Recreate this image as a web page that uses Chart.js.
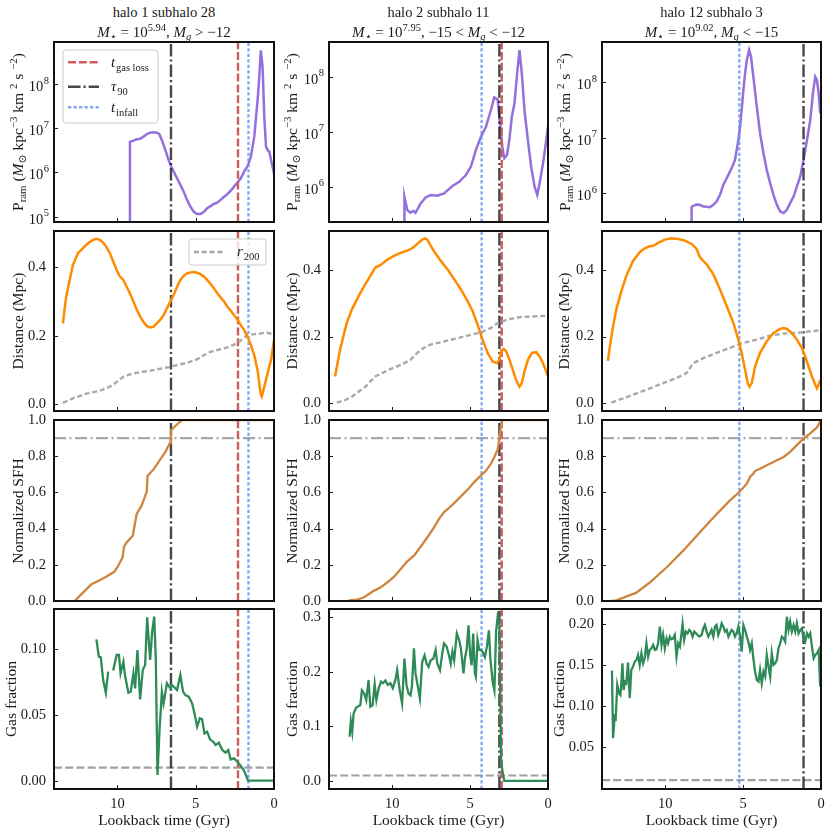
<!DOCTYPE html>
<html><head><meta charset="utf-8">
<script src="https://cdn.jsdelivr.net/npm/chart.js@4.4.1/dist/chart.umd.min.js"></script>
<style>
html,body{margin:0;padding:0;background:#fff;}
#wrap{position:relative;width:830px;height:834px;overflow:hidden;font-family:"Liberation Serif","DejaVu Serif",serif;color:#1a1a1a;}
canvas{position:absolute;}
.t{position:absolute;white-space:nowrap;transform:translate(-50%,-50%);font-size:14px;line-height:1;}
.yl{position:absolute;white-space:nowrap;transform:translate(-50%,-50%) rotate(-90deg);font-size:15px;line-height:1;}
sub,sup{font-size:70%;line-height:0;position:relative;vertical-align:baseline;}
sub{top:0.3em;} sup{top:-0.55em;}
</style></head><body><div id="wrap"></div>
<script>
// ---------------- DATA ----------------
// lookback-time ticks
const X_TICKS = [0, 5, 10];
const X_MAX = 14.05;
// event times per column (halo 1 sub 28, halo 2 sub 11, halo 12 sub 3)
const t_gasloss = [2.30, 2.97, null];
const tau90 = [6.58, 3.12, 1.12];
const t_infall = [1.63, 4.26, 5.24];
const sfh_threshold = 0.9;
const gas_threshold = 0.01;

// halo 1 subhalo 28
const h1_pram_t = [9.20, 9.20, 8.98, 8.77, 8.55, 8.34, 8.12, 7.91, 7.70, 7.48, 7.33, 7.16, 6.94, 6.73, 6.56, 6.41, 6.19, 5.98, 5.77, 5.55, 5.34, 5.12, 4.91, 4.69, 4.48, 4.27, 4.05, 3.84, 3.62, 3.41, 3.19, 2.98, 2.76, 2.55, 2.34, 2.12, 1.91, 1.69, 1.48, 1.26, 1.05, 0.94, 0.84, 0.73, 0.62, 0.51, 0.41, 0.30, 0.19, 0.09, 0.00];
const h1_pram_v = [1e3, 4.9e6, 5.25e6, 5.62e6, 5.75e6, 6.46e6, 7.41e6, 7.94e6, 8.13e6, 7.94e6, 7.41e6, 5.37e6, 3.24e6, 1.91e6, 1.35e6, 1.05e6, 7.41e5, 5.25e5, 3.72e5, 2.40e5, 1.70e5, 1.29e5, 1.15e5, 1.15e5, 1.29e5, 1.55e5, 1.74e5, 1.95e5, 2.09e5, 2.40e5, 2.82e5, 3.24e5, 3.89e5, 4.79e5, 5.89e5, 7.41e5, 1.05e6, 1.38e6, 2.24e6, 6.46e6, 4.27e7, 1.45e8, 5.75e8, 2.45e8, 1.82e7, 3.80e6, 3.24e6, 2.95e6, 1.91e6, 1.35e6, 9.55e5];
const h1_dist_t = [13.48, 13.38, 13.27, 13.05, 12.84, 12.52, 12.20, 11.88, 11.55, 11.34, 11.13, 10.91, 10.70, 10.48, 10.27, 10.05, 9.84, 9.62, 9.41, 9.20, 8.98, 8.77, 8.55, 8.34, 8.12, 7.91, 7.70, 7.48, 7.27, 7.05, 6.84, 6.62, 6.41, 6.19, 5.98, 5.77, 5.55, 5.34, 5.12, 4.91, 4.69, 4.48, 4.27, 4.05, 3.84, 3.62, 3.41, 3.19, 2.98, 2.76, 2.55, 2.34, 2.12, 1.91, 1.69, 1.48, 1.26, 1.05, 0.94, 0.84, 0.78, 0.72, 0.62, 0.41, 0.19, 0.00];
const h1_dist_v = [0.236, 0.275, 0.314, 0.363, 0.407, 0.441, 0.456, 0.470, 0.480, 0.483, 0.480, 0.472, 0.459, 0.441, 0.417, 0.392, 0.373, 0.363, 0.343, 0.324, 0.300, 0.277, 0.256, 0.241, 0.228, 0.224, 0.226, 0.236, 0.246, 0.260, 0.280, 0.300, 0.319, 0.343, 0.363, 0.375, 0.382, 0.385, 0.386, 0.384, 0.380, 0.373, 0.363, 0.351, 0.339, 0.324, 0.312, 0.300, 0.285, 0.273, 0.260, 0.248, 0.231, 0.217, 0.197, 0.173, 0.143, 0.100, 0.060, 0.028, 0.022, 0.032, 0.051, 0.090, 0.129, 0.187];
const h1_r200_t = [13.48, 12.84, 11.98, 11.13, 10.48, 10.05, 9.62, 8.98, 7.91, 6.84, 6.41, 5.55, 4.91, 4.48, 4.05, 2.98, 2.34, 1.69, 0.84, 0.41, 0.00];
const h1_r200_v = [0.004, 0.017, 0.031, 0.039, 0.051, 0.065, 0.080, 0.090, 0.098, 0.107, 0.112, 0.121, 0.131, 0.143, 0.153, 0.166, 0.178, 0.202, 0.207, 0.209, 0.202];
const h1_sfh_t = [12.73, 12.20, 11.66, 11.13, 10.70, 10.20, 9.95, 9.67, 9.58, 9.41, 9.02, 8.77, 8.45, 8.12, 8.08, 7.70, 7.27, 6.94, 6.62, 6.58, 6.30, 5.87, 0.00];
const h1_sfh_v = [0.0, 0.046, 0.093, 0.115, 0.135, 0.161, 0.194, 0.241, 0.300, 0.324, 0.361, 0.481, 0.528, 0.606, 0.691, 0.726, 0.781, 0.824, 0.876, 0.944, 0.967, 1.0, 1.0];
const h1_gas_t = [11.34, 11.19, 11.06, 10.91, 10.74, 10.59, 10.45, 10.27, 10.05, 9.90, 9.80, 9.62, 9.52, 9.30, 9.15, 8.98, 8.87, 8.72, 8.55, 8.38, 8.23, 8.10, 7.91, 7.78, 7.65, 7.55, 7.44, 7.31, 7.16, 7.05, 6.84, 6.62, 6.52, 6.41, 6.19, 5.98, 5.81, 5.66, 5.45, 5.23, 5.08, 4.91, 4.74, 4.59, 4.44, 4.27, 4.09, 3.88, 3.73, 3.52, 3.30, 3.09, 2.92, 2.77, 2.55, 2.34, 2.12, 1.91, 1.65, 0.00];
const h1_gas_v = [0.1076, 0.0944, 0.0939, 0.0766, 0.0670, 0.0830, null, 0.0838, 0.0957, 0.0957, 0.0817, 0.0906, 0.0805, 0.0670, 0.0678, 0.0817, 0.0703, 0.0995, 0.0619, 0.0843, 0.0881, 0.1244, 0.0919, 0.1135, 0.1249, 0.0931, 0.0043, 0.0386, 0.0678, 0.0589, 0.0741, 0.0703, 0.0728, 0.0716, 0.0690, 0.0805, 0.0678, 0.0652, 0.0640, 0.0589, 0.0513, 0.0411, 0.0475, 0.0467, 0.0360, 0.0373, 0.0315, 0.0297, 0.0272, 0.0289, 0.0234, 0.0213, 0.0234, 0.0162, 0.0170, 0.0145, 0.0112, 0.0076, 0.0, 0.0];

// halo 2 subhalo 11
const h2_pram_t = [9.22, 9.21, 9.03, 8.82, 8.65, 8.50, 8.17, 7.85, 7.53, 7.10, 6.67, 6.13, 5.70, 5.27, 4.95, 4.63, 4.30, 3.98, 3.66, 3.45, 3.23, 2.92, 2.80, 2.63, 2.48, 2.32, 2.15, 1.98, 1.83, 1.68, 1.51, 1.29, 1.08, 0.86, 0.69, 0.54, 0.32, 0.11, 0.00];
const h2_pram_v = [1e3, 6.58e5, 3.77e5, 3.37e5, 3.66e5, 3.37e5, 4.99e5, 6.41e5, 7.06e5, 6.86e5, 7.59e5, 1.03e6, 1.23e6, 1.63e6, 2.31e6, 4.65e6, 8.11e6, 1.23e7, 2.48e7, 4.22e7, 3.88e7, 5.01e6, 3.31e6, 3.77e6, 7.06e6, 1.87e7, 3.28e7, 1.15e8, 3.05e8, 1.15e8, 2.48e7, 7.06e6, 2.31e6, 1.0e6, 7.1e5, 1.15e6, 2.66e6, 7.06e6, 1.23e7];
const h2_dist_t = [13.66, 13.34, 12.91, 12.58, 12.15, 11.72, 11.40, 11.08, 10.75, 10.32, 9.89, 9.46, 9.03, 8.71, 8.39, 8.07, 7.89, 7.74, 7.53, 7.31, 7.10, 6.88, 6.45, 6.02, 5.59, 5.16, 4.84, 4.52, 4.20, 3.87, 3.55, 3.27, 3.12, 3.01, 2.84, 2.69, 2.47, 2.26, 2.05, 1.83, 1.68, 1.51, 1.29, 1.03, 0.75, 0.54, 0.32, 0.11, 0.00];
const h2_dist_v = [0.080, 0.161, 0.241, 0.282, 0.322, 0.358, 0.383, 0.408, 0.415, 0.431, 0.443, 0.452, 0.459, 0.466, 0.479, 0.492, 0.496, 0.492, 0.474, 0.457, 0.443, 0.428, 0.403, 0.373, 0.342, 0.307, 0.277, 0.236, 0.191, 0.151, 0.125, 0.120, 0.130, 0.156, 0.163, 0.156, 0.130, 0.100, 0.070, 0.049, 0.060, 0.095, 0.130, 0.151, 0.153, 0.140, 0.120, 0.095, 0.080];
const h2_r200_t = [13.55, 13.01, 12.58, 12.15, 11.72, 11.40, 11.08, 10.65, 10.11, 9.46, 8.82, 8.39, 7.96, 7.53, 6.88, 6.02, 5.16, 4.30, 3.66, 3.23, 2.58, 1.72, 0.86, 0.00];
const h2_r200_v = [0.001, 0.009, 0.019, 0.034, 0.049, 0.065, 0.080, 0.090, 0.102, 0.115, 0.130, 0.151, 0.166, 0.176, 0.183, 0.193, 0.203, 0.213, 0.226, 0.241, 0.252, 0.259, 0.261, 0.263];
const h2_sfh_t = [12.80, 12.26, 11.83, 11.51, 11.18, 10.75, 10.32, 9.89, 9.46, 9.03, 8.60, 8.17, 7.74, 7.31, 6.99, 6.67, 6.35, 6.02, 5.59, 5.16, 4.73, 4.30, 3.98, 3.66, 3.44, 3.23, 3.12, 3.01, 2.97, 0.00];
const h2_sfh_v = [0.004, 0.007, 0.019, 0.037, 0.056, 0.074, 0.102, 0.133, 0.176, 0.219, 0.250, 0.300, 0.352, 0.407, 0.454, 0.491, 0.515, 0.541, 0.578, 0.615, 0.657, 0.694, 0.719, 0.759, 0.796, 0.837, 0.898, 0.972, 1.0, 1.0];
const h2_gas_t = [12.73, 12.65, 12.56, 12.47, 12.30, 12.15, 12.04, 11.94, 11.79, 11.66, 11.51, 11.40, 11.25, 11.12, 11.01, 10.86, 10.71, 10.58, 10.43, 10.28, 10.11, 9.96, 9.79, 9.68, 9.51, 9.36, 9.21, 9.08, 8.95, 8.82, 8.73, 8.60, 8.50, 8.35, 8.22, 8.07, 7.92, 7.79, 7.66, 7.53, 7.36, 7.21, 7.10, 6.93, 6.78, 6.67, 6.50, 6.35, 6.24, 6.13, 6.02, 5.85, 5.70, 5.59, 5.42, 5.33, 5.21, 5.10, 4.99, 4.90, 4.80, 4.69, 4.63, 4.52, 4.41, 4.30, 4.20, 4.05, 3.92, 3.79, 3.70, 3.55, 3.44, 3.33, 3.23, 3.12, 3.01, 2.90, 2.80, 0.00];
const h2_gas_v = [0.081, 0.109, 0.090, 0.124, 0.135, 0.137, 0.139, 0.166, 0.160, 0.148, 0.185, 0.136, 0.139, 0.177, 0.148, 0.170, 0.182, 0.179, 0.184, 0.176, 0.179, 0.170, 0.185, 0.203, 0.166, 0.142, 0.224, 0.176, 0.160, 0.157, 0.173, 0.243, 0.197, 0.173, 0.151, 0.218, 0.230, 0.215, 0.209, 0.221, 0.224, 0.240, 0.215, 0.203, 0.234, 0.252, 0.246, 0.230, 0.215, 0.237, 0.221, 0.270, 0.258, 0.243, 0.197, 0.224, 0.243, 0.285, 0.230, 0.212, 0.270, 0.197, 0.191, 0.258, 0.240, 0.240, 0.237, 0.227, 0.246, 0.276, 0.224, 0.182, 0.166, 0.273, 0.301, 0.288, 0.038, 0.014, 0.0, 0.0];

// halo 12 subhalo 3
const h12_pram_t = [8.31, 8.30, 8.20, 7.98, 7.77, 7.55, 7.34, 7.12, 6.91, 6.70, 6.48, 6.27, 6.05, 5.84, 5.62, 5.52, 5.41, 5.30, 5.19, 5.09, 4.98, 4.87, 4.76, 4.61, 4.49, 4.34, 4.12, 3.91, 3.69, 3.48, 3.26, 3.05, 2.83, 2.62, 2.40, 2.19, 1.98, 1.76, 1.55, 1.33, 1.12, 0.90, 0.69, 0.52, 0.37, 0.26, 0.15, 0.05];
const h12_pram_v = [1e3, 5.60e5, 5.92e5, 6.25e5, 6.17e5, 5.75e5, 5.68e5, 5.60e5, 6.17e5, 7.08e5, 9.33e5, 1.41e6, 1.86e6, 2.45e6, 3.38e6, 3.99e6, 6.04e6, 9.14e6, 1.59e7, 3.18e7, 7.28e7, 1.45e8, 2.52e8, 3.83e8, 2.90e8, 1.26e8, 3.65e7, 1.21e7, 5.26e6, 2.63e6, 1.51e6, 9.33e5, 6.17e5, 4.68e5, 4.37e5, 5.01e5, 6.61e5, 8.71e5, 1.32e6, 2.00e6, 3.99e6, 9.14e6, 2.09e7, 6.34e7, 1.26e8, 1.10e8, 6.34e7, 2.76e7];
const h12_dist_t = [13.67, 13.56, 13.34, 13.13, 12.81, 12.49, 12.06, 11.63, 11.31, 10.99, 10.73, 10.45, 10.02, 9.59, 9.16, 8.73, 8.30, 7.98, 7.81, 7.66, 7.34, 6.91, 6.48, 6.05, 5.62, 5.30, 5.09, 4.87, 4.70, 4.59, 4.44, 4.23, 3.91, 3.48, 3.05, 2.62, 2.40, 2.19, 1.87, 1.55, 1.23, 1.01, 0.80, 0.58, 0.37, 0.26, 0.15, 0.05];
const h12_dist_v = [0.127, 0.166, 0.231, 0.282, 0.337, 0.383, 0.428, 0.454, 0.466, 0.472, 0.474, 0.482, 0.492, 0.496, 0.494, 0.489, 0.479, 0.464, 0.443, 0.433, 0.418, 0.388, 0.342, 0.292, 0.241, 0.191, 0.151, 0.100, 0.060, 0.049, 0.060, 0.110, 0.151, 0.186, 0.211, 0.223, 0.226, 0.223, 0.211, 0.191, 0.166, 0.140, 0.110, 0.080, 0.055, 0.044, 0.055, 0.070];
const h12_r200_t = [13.45, 12.70, 11.84, 10.99, 10.13, 9.27, 8.63, 8.20, 7.55, 6.70, 5.84, 4.98, 4.12, 3.26, 2.40, 1.55, 0.69, 0.05];
const h12_r200_v = [0.001, 0.014, 0.029, 0.044, 0.060, 0.075, 0.090, 0.120, 0.135, 0.151, 0.166, 0.181, 0.191, 0.203, 0.209, 0.211, 0.216, 0.219];
const h12_sfh_t = [13.45, 13.13, 11.84, 10.99, 9.91, 8.84, 7.77, 6.69, 5.84, 5.24, 4.76, 4.55, 4.34, 4.23, 3.91, 3.48, 2.83, 2.40, 1.98, 1.55, 1.12, 0.69, 0.26, 0.05];
const h12_sfh_v = [0.0, 0.004, 0.046, 0.102, 0.185, 0.278, 0.380, 0.481, 0.556, 0.602, 0.648, 0.685, 0.704, 0.719, 0.731, 0.750, 0.778, 0.796, 0.824, 0.861, 0.898, 0.926, 0.959, 0.991];
const h12_gas_t = [13.41, 13.34, 13.24, 13.17, 13.07, 12.96, 12.87, 12.81, 12.74, 12.66, 12.59, 12.49, 12.38, 12.27, 12.17, 12.06, 11.95, 11.84, 11.74, 11.63, 11.52, 11.41, 11.31, 11.20, 11.09, 10.99, 10.88, 10.77, 10.66, 10.56, 10.45, 10.34, 10.23, 10.13, 10.02, 9.91, 9.81, 9.70, 9.59, 9.48, 9.38, 9.27, 9.16, 9.05, 8.88, 8.78, 8.67, 8.56, 8.45, 8.35, 8.24, 8.13, 8.02, 7.92, 7.81, 7.66, 7.55, 7.45, 7.34, 7.23, 7.12, 7.02, 6.91, 6.80, 6.70, 6.59, 6.48, 6.37, 6.27, 6.16, 6.05, 5.94, 5.84, 5.73, 5.62, 5.52, 5.41, 5.30, 5.19, 5.09, 4.98, 4.87, 4.76, 4.66, 4.55, 4.44, 4.34, 4.23, 4.12, 4.01, 3.91, 3.80, 3.69, 3.58, 3.48, 3.37, 3.26, 3.16, 3.05, 2.94, 2.83, 2.73, 2.62, 2.51, 2.40, 2.30, 2.19, 2.08, 1.98, 1.87, 1.76, 1.65, 1.55, 1.44, 1.33, 1.23, 1.12, 1.01, 0.90, 0.80, 0.69, 0.58, 0.47, 0.37, 0.26, 0.15, 0.05];
const h12_gas_v = [0.1435, 0.0610, 0.0874, 0.0854, 0.1260, 0.1159, 0.1138, 0.1280, 0.1524, 0.1199, 0.1301, 0.1280, 0.1533, 0.1098, 0.1443, 0.1484, 0.1545, 0.1565, 0.1626, 0.1504, 0.1646, 0.1524, 0.1585, 0.1768, 0.1606, 0.1687, 0.1707, 0.1748, 0.1687, 0.1695, 0.1768, 0.1972, 0.1748, 0.1870, 0.1707, 0.1829, 0.1768, 0.1850, 0.1817, 0.1829, 0.1870, 0.1606, 0.1768, 0.1728, 0.2004, 0.1809, 0.1911, 0.1890, 0.1931, 0.1911, 0.1850, 0.1911, 0.1890, 0.1870, 0.1850, 0.1870, 0.1951, 0.1992, 0.1911, 0.1850, 0.1890, 0.1931, 0.1850, 0.1972, 0.1992, 0.1870, 0.1931, 0.2012, 0.1972, 0.1911, 0.1931, 0.1850, 0.1890, 0.1931, 0.1911, 0.1850, 0.1890, 0.1972, 0.1850, 0.1667, 0.1992, 0.1931, 0.1850, 0.1789, 0.1687, 0.1768, 0.1585, 0.1423, 0.1321, 0.1301, 0.1443, 0.1280, 0.1423, 0.1362, 0.1626, 0.1484, 0.1362, 0.1646, 0.1504, 0.1524, 0.1565, 0.1707, 0.1768, 0.1850, 0.1829, 0.1789, 0.2093, 0.1931, 0.2033, 0.1911, 0.1992, 0.1911, 0.2012, 0.1890, 0.1931, 0.1951, 0.1829, 0.1789, 0.1890, 0.1850, 0.1890, 0.1728, 0.1585, 0.1626, 0.1646, 0.1687, 0.1240];

// axis ranges and ticks
const pram_range = [[7.6e4, 8.9e8], [2.29e5, 4.27e8], [3.02e5, 5.37e8]];
const pram_ticks = [[1e5, 1e6, 1e7, 1e8], [1e6, 1e7, 1e8], [1e6, 1e7, 1e8]];
const dist_range = [[-0.020, 0.506], [-0.024, 0.518], [-0.024, 0.518]];
const dist_ticks = [0.0, 0.2, 0.4];
const sfh_range = [0, 1];
const sfh_ticks = [0.0, 0.2, 0.4, 0.6, 0.8, 1.0];
const gas_range = [[-0.0063, 0.1307], [-0.0147, 0.315], [-0.0009, 0.2187]];
const gas_ticks = [[0.0, 0.05, 0.10], [0.0, 0.1, 0.2, 0.3], [0.05, 0.10, 0.15, 0.20]];
const gas_dec = [2, 1, 2];

const titles1 = ['halo 1 subhalo 28', 'halo 2 subhalo 11', 'halo 12 subhalo 3'];
const titles2 = [
  '<i>M</i><sub>⋆</sub> = 10<sup>5.94</sup>, <i>M</i><sub><i>g</i></sub> &gt; −12',
  '<i>M</i><sub>⋆</sub> = 10<sup>7.95</sup>, −15 &lt; <i>M</i><sub><i>g</i></sub> &lt; −12',
  '<i>M</i><sub>⋆</sub> = 10<sup>9.02</sup>, <i>M</i><sub><i>g</i></sub> &lt; −15'
];
const ylabels = [
  'P<sub>ram</sub> (<i>M</i><sub>⊙</sub> kpc<sup>−3</sup> km <sup>2</sup> s <sup>−2</sup>)',
  'Distance (Mpc)', 'Normalized SFH', 'Gas fraction'
];
const xlabel = 'Lookback time (Gyr)';

// ---------------- STYLE / LAYOUT ----------------
const FONT = '"Liberation Serif", "DejaVu Serif", serif';
Chart.defaults.font.family = FONT;
Chart.defaults.color = '#1a1a1a';
const COL_L = [54, 329, 602], COL_W = [220, 219, 219];
const ROW_T = [42, 231, 420, 609], ROW_H = [180, 180, 181, 180];
const YLAB_X = [[17.5, 17.5, 18.3, 11.3], [292, 292, 292, 292], [564.5, 564, 564, 559]];
const C_PRAM = '#9370DB', C_DIST = '#FF8C00', C_SFH = '#CD853F', C_GAS = '#2E8B57';
const ST_GAS = {color: '#cd5c5c', w: 2.4, dash: [8, 2.8]};
const ST_TAU = {color: 'rgba(25,25,25,0.8)', w: 2.4, dash: [12.5, 3, 2.2, 3]};
const ST_INF = {color: 'rgba(100,149,237,0.8)', w: 2.4, dash: [3.3, 2.2]};
const ST_R200 = {color: '#a9a9a9', w: 2.4, dash: [5, 2.8]};
const ST_H09 = {color: '#a9a9a9', w: 2.2, dash: [12, 3.5, 2, 3.5]};
const ST_H001 = {color: '#a0a0a0', w: 2.2, dash: [8, 3.2]};

const wrap = document.getElementById('wrap');

function strokeLine(ctx, x1, y1, x2, y2, st) {
  ctx.save();
  ctx.strokeStyle = st.color; ctx.lineWidth = st.w; ctx.setLineDash(st.dash || []);
  ctx.lineCap = 'butt';
  ctx.beginPath(); ctx.moveTo(x1, y1); ctx.lineTo(x2, y2); ctx.stroke();
  ctx.restore();
}
function drawRich(ctx, x, y, parts, size) {
  ctx.textAlign = 'left'; ctx.textBaseline = 'alphabetic'; ctx.fillStyle = '#1a1a1a';
  for (const p of parts) {
    const fs = p.sub ? size * 0.7 : size;
    ctx.font = (p.it ? 'italic ' : '') + fs + 'px ' + FONT;
    ctx.fillText(p.t, x, y + (p.sub ? size * 0.25 : 0));
    x += ctx.measureText(p.t).width + (p.it ? 0.8 : 0);
  }
}
function legendBox(ctx, x, y, w, h) {
  const r = 3;
  ctx.save();
  ctx.beginPath();
  ctx.moveTo(x + r, y); ctx.lineTo(x + w - r, y); ctx.arcTo(x + w, y, x + w, y + r, r);
  ctx.lineTo(x + w, y + h - r); ctx.arcTo(x + w, y + h, x + w - r, y + h, r);
  ctx.lineTo(x + r, y + h); ctx.arcTo(x, y + h, x, y + h - r, r);
  ctx.lineTo(x, y + r); ctx.arcTo(x, y, x + r, y, r); ctx.closePath();
  ctx.fillStyle = 'rgba(255,255,255,0.8)'; ctx.fill();
  ctx.strokeStyle = '#cccccc'; ctx.lineWidth = 1; ctx.setLineDash([]); ctx.stroke();
  ctx.restore();
}
function legendEvents(ctx, a) {
  legendBox(ctx, a.left + 9, a.top + 8, 95, 73);
  const rows = [
    [20.3, ST_GAS, [{t: 't', it: 1}, {t: 'gas loss', sub: 1}]],
    [44.7, ST_TAU, [{t: 'τ', it: 1}, {t: '90', sub: 1}]],
    [65.3, ST_INF, [{t: 't', it: 1}, {t: 'infall', sub: 1}]]
  ];
  rows.forEach(([dy, st, parts]) => {
    strokeLine(ctx, a.left + 14, a.top + dy, a.left + 45, a.top + dy, st);
    drawRich(ctx, a.left + 57, a.top + dy + 4.5, parts, 15);
  });
}
function legendR200(ctx, a) {
  legendBox(ctx, a.left + 135, a.top + 8, 77, 26);
  strokeLine(ctx, a.left + 140, a.top + 21, a.left + 170, a.top + 21, ST_R200);
  drawRich(ctx, a.left + 183, a.top + 25, [{t: 'r', it: 1}, {t: '200', sub: 1}], 15);
}

function makePlugin(p) {
  function drawV(chart) {
    const {ctx, chartArea: a, scales: {x}} = chart;
    ctx.save();
    ctx.beginPath(); ctx.rect(a.left, a.top, a.width, a.height); ctx.clip();
    p.vlines.forEach(v => {
      if (v.t == null) return;
      const px = x.getPixelForValue(v.t);
      strokeLine(ctx, px, a.bottom, px, a.top, v.st);
    });
    ctx.restore();
  }
  return {
    id: 'panelDeco',
    beforeDatasetsDraw(chart) {
      const {ctx, chartArea: a, scales: {y}} = chart;
      ctx.save();
      ctx.beginPath(); ctx.rect(a.left, a.top, a.width, a.height); ctx.clip();
      (p.hlines || []).forEach(h => {
        const py = y.getPixelForValue(h.v);
        strokeLine(ctx, a.left, py, a.right, py, h.st);
      });
      ctx.restore();
      if (!p.vOnTop) drawV(chart);
    },
    afterDatasetsDraw(chart) {
      const {ctx, chartArea: a, scales: {x, y}} = chart;
      if (p.vOnTop) drawV(chart);
      ctx.save();
      ctx.strokeStyle = '#1a1a1a'; ctx.lineWidth = 1; ctx.setLineDash([]);
      y.ticks.forEach(t => {
        const py = Math.round(y.getPixelForValue(t.value)) + 0.5;
        if (py < a.top + 1 || py > a.bottom - 1) return;
        ctx.beginPath(); ctx.moveTo(a.left, py); ctx.lineTo(a.left + 4, py); ctx.stroke();
      });
      x.ticks.forEach(t => {
        const px = Math.round(x.getPixelForValue(t.value)) + 0.5;
        if (px < a.left + 1 || px > a.right - 1) return;
        ctx.beginPath(); ctx.moveTo(px, a.bottom); ctx.lineTo(px, a.bottom - 4); ctx.stroke();
      });
      ctx.lineWidth = 2; ctx.strokeStyle = '#111';
      ctx.strokeRect(a.left, a.top, a.width, a.height);
      if (p.log) {
        ctx.fillStyle = '#1a1a1a'; ctx.textBaseline = 'alphabetic';
        y.ticks.forEach(t => {
          const py = y.getPixelForValue(t.value);
          const ex = String(Math.round(Math.log10(t.value)));
          ctx.font = '10.5px ' + FONT;
          const ew = ctx.measureText(ex).width;
          const right = a.left - 5;
          ctx.textAlign = 'left';
          ctx.fillText(ex, right - ew, py - 0.5);
          ctx.font = '14.5px ' + FONT;
          ctx.textAlign = 'right';
          ctx.fillText('10', right - ew - 0.5, py + 7);
        });
      }
      if (p.legend) p.legend(ctx, a);
      ctx.restore();
    }
  };
}

function makePanel(p) {
  const L = COL_L[p.col], W = COL_W[p.col], T = ROW_T[p.row], H = ROW_H[p.row];
  const ML = 56, MT = 20, MR = 14, MB = p.row === 3 ? 34 : 20;
  const cv = document.createElement('canvas');
  cv.width = W + ML + MR; cv.height = H + MT + MB;
  cv.style.left = (L - ML) + 'px'; cv.style.top = (T - MT) + 'px';
  cv.style.width = cv.width + 'px'; cv.style.height = cv.height + 'px';
  wrap.appendChild(cv);
  const datasets = p.series.map(s => ({
    data: s.t.map((tt, i) => ({x: tt, y: s.v[i]})),
    borderColor: s.st ? s.st.color : s.color,
    borderWidth: s.st ? s.st.w : (s.w || 2.5),
    borderDash: s.st ? s.st.dash : [],
    pointRadius: 0, fill: false, tension: 0, spanGaps: false, clip: 0
  }));
  new Chart(cv, {
    type: 'line',
    data: {datasets},
    options: {
      responsive: false, animation: false, events: [],
      layout: {padding: {left: 0, top: MT, right: MR, bottom: 0}},
      plugins: {legend: {display: false}, tooltip: {enabled: false}},
      scales: {
        x: {
          type: 'linear', min: 0, max: X_MAX, reverse: true, bounds: 'data',
          grid: {display: false, drawTicks: false}, border: {display: false},
          ticks: {display: p.row === 3, font: {size: 14.5}, color: '#1a1a1a', padding: 6, autoSkip: false, maxRotation: 0,
                  callback: v => String(v)},
          afterBuildTicks: s => { s.ticks = X_TICKS.map(v => ({value: v})); },
          afterFit: s => { s.height = MB; }
        },
        y: {
          type: p.log ? 'logarithmic' : 'linear', min: p.ymin, max: p.ymax, bounds: 'data',
          grid: {display: false, drawTicks: false}, border: {display: false},
          ticks: {display: !p.log, font: {size: 14.5}, color: '#1a1a1a', padding: 8, autoSkip: false,
                  callback: v => Number(v).toFixed(p.dec || 1)},
          afterBuildTicks: s => { s.ticks = p.yticks.map(v => ({value: v})); },
          afterFit: s => { s.width = ML; }
        }
      }
    },
    plugins: [makePlugin(p)]
  });
}

const H1 = {pram: [h1_pram_t, h1_pram_v], dist: [h1_dist_t, h1_dist_v], r200: [h1_r200_t, h1_r200_v], sfh: [h1_sfh_t, h1_sfh_v], gas: [h1_gas_t, h1_gas_v]};
const H2 = {pram: [h2_pram_t, h2_pram_v], dist: [h2_dist_t, h2_dist_v], r200: [h2_r200_t, h2_r200_v], sfh: [h2_sfh_t, h2_sfh_v], gas: [h2_gas_t, h2_gas_v]};
const H12 = {pram: [h12_pram_t, h12_pram_v], dist: [h12_dist_t, h12_dist_v], r200: [h12_r200_t, h12_r200_v], sfh: [h12_sfh_t, h12_sfh_v], gas: [h12_gas_t, h12_gas_v]};
const HALOS = [H1, H2, H12];

HALOS.forEach((h, c) => {
  const vlines = [
    {t: t_gasloss[c], st: ST_GAS},
    {t: tau90[c], st: ST_TAU},
    {t: t_infall[c], st: ST_INF}
  ];
  makePanel({col: c, row: 0, log: true, ymin: pram_range[c][0], ymax: pram_range[c][1], yticks: pram_ticks[c],
    series: [{t: h.pram[0], v: h.pram[1], color: C_PRAM}], vlines, vOnTop: true, legend: c === 0 ? legendEvents : null});
  makePanel({col: c, row: 1, ymin: dist_range[c][0], ymax: dist_range[c][1], yticks: dist_ticks, dec: 1,
    series: [{t: h.dist[0], v: h.dist[1], color: C_DIST}, {t: h.r200[0], v: h.r200[1], st: ST_R200}],
    vlines, legend: c === 0 ? legendR200 : null});
  makePanel({col: c, row: 2, ymin: sfh_range[0], ymax: sfh_range[1], yticks: sfh_ticks, dec: 1,
    series: [{t: h.sfh[0], v: h.sfh[1], color: C_SFH, w: 2.3}], vlines,
    hlines: [{v: sfh_threshold, st: ST_H09}]});
  makePanel({col: c, row: 3, ymin: gas_range[c][0], ymax: gas_range[c][1], yticks: gas_ticks[c], dec: gas_dec[c],
    series: [{t: h.gas[0], v: h.gas[1], color: C_GAS, w: 2.3}], vlines,
    hlines: [{v: gas_threshold, st: ST_H001}]});
});

// ---------------- TEXT ----------------
function addText(html, x, y, cls, size) {
  const d = document.createElement('div');
  d.className = cls; d.innerHTML = html;
  d.style.left = x + 'px'; d.style.top = y + 'px';
  if (size) d.style.fontSize = size + 'px';
  wrap.appendChild(d);
}
for (let c = 0; c < 3; c++) {
  const cx = COL_L[c] + COL_W[c] / 2;
  addText(titles1[c], cx, 12, 't', 14.5);
  addText(titles2[c], cx, 32, 't', 15);
  addText(xlabel, cx, 820, 't', 15.5);
  for (let r = 0; r < 4; r++) {
    addText(ylabels[r], YLAB_X[c][r], ROW_T[r] + ROW_H[r] / 2, 'yl', r === 0 ? 15.5 : 15.5);
  }
}
</script></body></html>
